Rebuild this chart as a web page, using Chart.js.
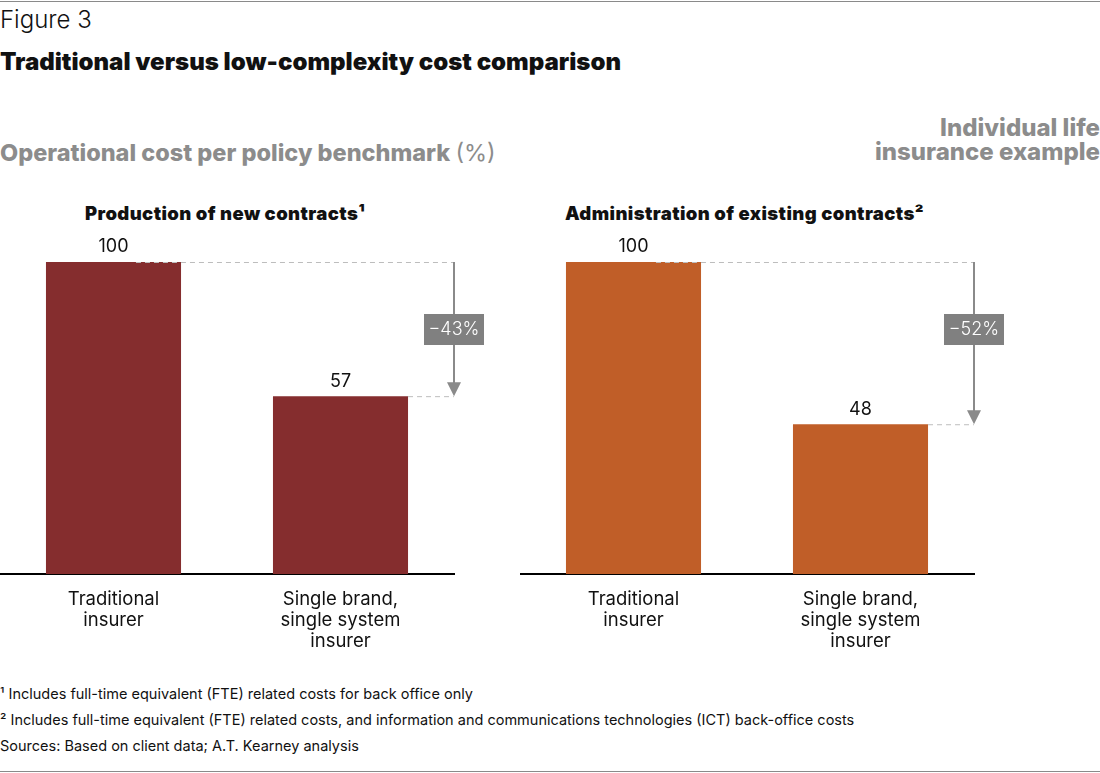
<!DOCTYPE html>
<html>
<head>
<meta charset="utf-8">
<script src="https://cdn.jsdelivr.net/npm/chart.js@4/dist/chart.umd.min.js"></script>
<style>
  body { margin:0; background:#fff; font-family: Inter, "Liberation Sans", sans-serif; color:#111; }
  #page { position:relative; width:1100px; height:773px; overflow:hidden; }
  .abs { position:absolute; white-space:nowrap; }
  .rule { position:absolute; left:0; width:1100px; height:1px; background:#8a8a8a; }
  canvas { position:absolute; }
</style>
</head>
<body>
<div id="page">
  <div class="rule" style="top:1px"></div>
  <div class="abs" style="left:0;top:7px;font-size:24px;line-height:26px;font-weight:300;">Figure 3</div>
  <div class="abs" style="left:0;top:49px;font-size:24px;line-height:26px;font-weight:900;">Traditional versus low-complexity cost comparison</div>
  <div class="abs" style="left:0;top:140px;font-size:23.5px;line-height:26px;font-weight:800;color:#8c8c8c;">Operational cost per policy benchmark <span style="font-weight:400">(%)</span></div>
  <div class="abs" style="right:0;top:116px;font-size:24px;line-height:24px;font-weight:800;color:#8c8c8c;text-align:right;">Individual life<br>insurance example</div>
  <div class="abs" style="left:85px;top:202px;font-size:18.5px;line-height:22px;font-weight:900;letter-spacing:0.4px">Production of new contracts¹</div>
  <div class="abs" style="left:565px;top:202px;font-size:18.5px;line-height:22px;font-weight:900;letter-spacing:0.4px">Administration of existing contracts²</div>

  <canvas id="left" width="500" height="430" style="left:0;top:230px;width:500px;height:430px"></canvas>
  <canvas id="right" width="500" height="430" style="left:520px;top:230px;width:500px;height:430px"></canvas>

  <div class="abs" style="left:0;top:685px;font-size:14.5px;line-height:18px;">¹ Includes full-time equivalent (FTE) related costs for back office only</div>
  <div class="abs" style="left:0;top:711px;font-size:14.5px;line-height:18px;">² Includes full-time equivalent (FTE) related costs, and information and communications technologies (ICT) back-office costs</div>
  <div class="abs" style="left:0;top:737px;font-size:14.5px;line-height:18px;">Sources: Based on client data; A.T. Kearney analysis</div>
  <div class="rule" style="top:771px"></div>
</div>
<script>
// data
var categories = [["Traditional", "insurer"], ["Single brand,", "single system", "insurer"]];
var productionValues = [100, 57];
var administrationValues = [100, 48];
var productionChange = "\u221243%";
var administrationChange = "\u221252%";

var dropArrow = {
  id: "dropArrow",
  afterDatasetsDraw: function(chart, args, opts) {
    var ctx = chart.ctx;
    var y = chart.scales.y;
    var meta = chart.getDatasetMeta(0);
    var vals = chart.data.datasets[0].data;
    var area = chart.chartArea;
    var ax = area.right;

    ctx.save();
    // value labels
    ctx.fillStyle = "#111";
    ctx.font = "18px Inter";
    ctx.textAlign = "center";
    ctx.textBaseline = "middle";
    meta.data.forEach(function(bar, i) {
      ctx.fillText(vals[i], bar.x, bar.y - 15);
    });

    // dashed guides
    var yTop = y.getPixelForValue(vals[0]);
    var yBot = y.getPixelForValue(vals[1]);
    ctx.strokeStyle = "#bdbdbd";
    ctx.lineWidth = 1;
    ctx.setLineDash([5, 4]);
    ctx.beginPath();
    ctx.moveTo(meta.data[0].x - meta.data[0].width / 2 + 90, yTop + 0.5);
    ctx.lineTo(ax, yTop + 0.5);
    ctx.moveTo(meta.data[1].x + meta.data[1].width / 2, yBot + 0.5);
    ctx.lineTo(ax, yBot + 0.5);
    ctx.stroke();
    ctx.setLineDash([]);

    // arrow
    ctx.strokeStyle = "#8a8a8a";
    ctx.fillStyle = "#8a8a8a";
    ctx.lineWidth = 2;
    ctx.beginPath();
    ctx.moveTo(ax, yTop);
    ctx.lineTo(ax, yBot - 12);
    ctx.stroke();
    ctx.beginPath();
    ctx.moveTo(ax - 7, yBot - 14);
    ctx.lineTo(ax + 7, yBot - 14);
    ctx.lineTo(ax, yBot);
    ctx.closePath();
    ctx.fill();

    // change box
    var cy = yTop + 67;
    ctx.fillStyle = "#808080";
    ctx.fillRect(ax - 30, cy - 15, 60, 31);
    ctx.fillStyle = "#fff";
    ctx.font = "300 18px Inter";
    ctx.fillText(opts.text, ax, cy + 1);
    ctx.restore();
  }
};

function makeChart(id, values, color, change) {
  return new Chart(document.getElementById(id), {
    type: "bar",
    data: {
      labels: categories,
      datasets: [{
        data: values,
        backgroundColor: color,
        borderWidth: 0,
        categoryPercentage: 1,
        barPercentage: 0.595
      }]
    },
    options: {
      responsive: false,
      animation: false,
      layout: { padding: { left: 0, right: 46, top: 32, bottom: 0 } },
      plugins: {
        legend: { display: false },
        tooltip: { enabled: false },
        dropArrow: { text: change }
      },
      scales: {
        x: {
          grid: { display: false },
          border: { display: true, color: "#000", width: 2 },
          ticks: { color: "#111", font: { family: "Inter", size: 18.5, lineHeight: 1.14 }, padding: 7, maxRotation: 0 },
          afterFit: function(s) { s.height = 86; }
        },
        y: { display: false, min: 0, max: 100 }
      }
    },
    plugins: [dropArrow]
  });
}

makeChart("left", productionValues, "#852d2e", productionChange);
makeChart("right", administrationValues, "#c05e28", administrationChange);
</script>
</body>
</html>
